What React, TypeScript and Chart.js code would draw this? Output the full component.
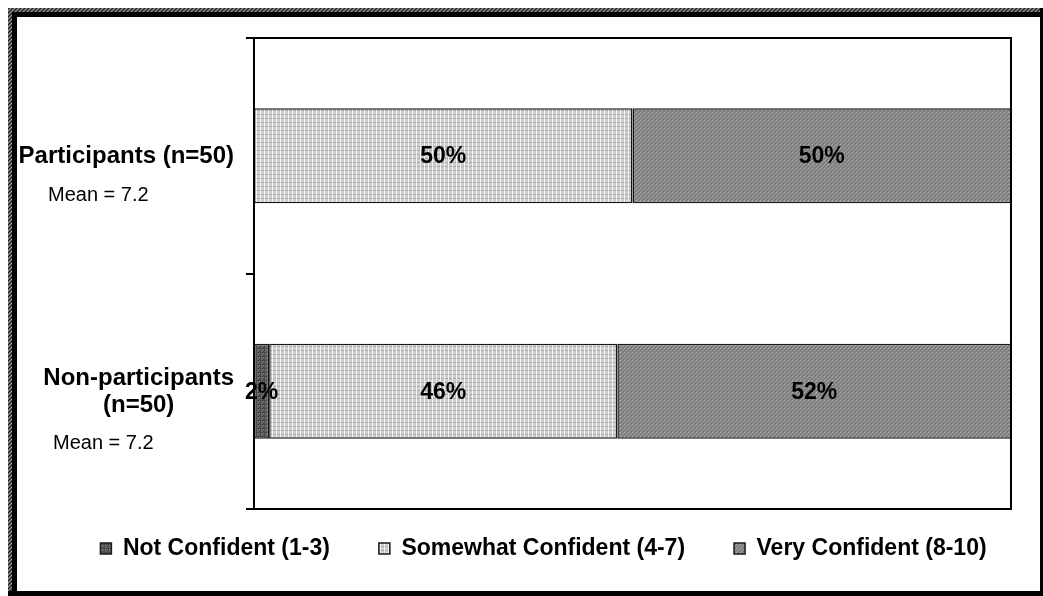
import { useEffect, useRef } from "react";
import { Chart, registerables } from "chart.js";

Chart.register(...registerables);

// ---- data ----
const categoryLines: string[][] = [["Participants (n=50)"], ["Non-participants", "(n=50)"]];
const meanLabels: string[] = ["Mean = 7.2", "Mean = 7.2"];
const seriesNames: string[] = ["Not Confident (1-3)", "Somewhat Confident (4-7)", "Very Confident (8-10)"];
const notConfident: number[] = [0, 2];
const somewhatConfident: number[] = [50, 46];
const veryConfident: number[] = [50, 52];

const FONT = '"Liberation Sans", Arial, Helvetica, sans-serif';
const W = 1043;
const H = 596;

function makePattern(base: string, px: Array<[number, number, string]>, size = 4): CanvasPattern | string {
  const c = document.createElement("canvas");
  c.width = size;
  c.height = size;
  const g = c.getContext("2d");
  if (!g) return base;
  g.fillStyle = base;
  g.fillRect(0, 0, size, size);
  px.forEach(([x, y, col]) => {
    g.fillStyle = col;
    g.fillRect(x, y, 1, 1);
  });
  const p = g.createPattern(c, "repeat");
  return p || base;
}

export default function App() {
  const ref = useRef<HTMLCanvasElement | null>(null);

  useEffect(() => {
    const canvas = ref.current;
    if (!canvas) return;

    const notPat = makePattern("#575757", [
      [0, 0, "#3a3a3a"], [2, 0, "#3a3a3a"], [1, 1, "#7a7a7a"], [3, 1, "#6a6a6a"],
      [0, 2, "#3a3a3a"], [2, 2, "#888888"], [1, 3, "#6a6a6a"], [3, 3, "#484848"],
    ]);
    const somePat = makePattern("#cbcbcb", [
      [0, 0, "#f4f4f4"], [0, 1, "#f4f4f4"], [0, 2, "#f4f4f4"], [0, 3, "#f4f4f4"],
      [1, 2, "#a4a4a4"], [2, 2, "#b8b8b8"], [3, 2, "#a4a4a4"], [2, 0, "#dadada"],
    ]);
    const veryPat = makePattern("#898989", [
      [0, 0, "#b0b0b0"], [2, 0, "#767676"], [1, 1, "#767676"], [3, 1, "#969696"],
      [0, 2, "#767676"], [2, 2, "#9c9c9c"], [1, 3, "#969696"], [3, 3, "#727272"],
    ]);
    const framePat = makePattern("#555555", [
      [0, 0, "#222222"], [2, 0, "#999999"], [1, 1, "#999999"], [3, 1, "#222222"],
      [0, 2, "#999999"], [2, 2, "#222222"], [1, 3, "#222222"], [3, 3, "#999999"],
    ]);

    const framePlugin = {
      id: "frame",
      beforeDraw(chart: any) {
        const ctx = chart.ctx;
        ctx.save();
        ctx.fillStyle = "#ffffff";
        ctx.fillRect(0, 0, W, H);
        ctx.fillStyle = framePat;
        ctx.fillRect(8, 8, 4, H - 8);
        ctx.fillRect(8, 8, W - 8, 4);
        ctx.fillStyle = "#000000";
        ctx.fillRect(12, 12, 5, H - 12);
        ctx.fillRect(12, 12, W - 12, 5);
        ctx.fillRect(W - 3, 8, 3, H - 8);
        ctx.fillRect(8, H - 5, W - 8, 5);
        ctx.restore();
      },
    };

    // nudge the built-in legend to its place in the reference
    const legendShift = {
      id: "legendShift",
      afterLayout(chart: any) {
        const lg = chart.legend;
        if (lg) {
          lg.top -= 21;
          lg.bottom -= 21;
          lg.left += 38;
          lg.right += 38;
        }
      },
    };

    const overlayPlugin = {
      id: "overlay",
      afterDatasetsDraw(chart: any) {
        const ctx = chart.ctx;
        const a = chart.chartArea;
        ctx.save();
        ctx.strokeStyle = "#000000";
        ctx.lineWidth = 2;
        ctx.strokeRect(a.left, a.top, a.right - a.left, a.bottom - a.top);

        ctx.fillStyle = "#000000";
        ctx.font = `bold 23px ${FONT}`;
        ctx.textAlign = "center";
        ctx.textBaseline = "middle";
        chart.data.datasets.forEach((ds: any, di: number) => {
          const meta = chart.getDatasetMeta(di);
          meta.data.forEach((el: any, i: number) => {
            const v = ds.data[i];
            if (!v) return;
            const p = el.getProps(["x", "y", "base"], true);
            ctx.fillText(`${v}%`, (p.x + p.base) / 2, p.y + 1);
          });
        });

        const ys = chart.scales.y;
        const blockRight = a.left - 20;
        const lineH = 27;
        const meanX = [48, 53];
        const meanDy = [40, 52];
        categoryLines.forEach((lines, i) => {
          const cy = ys.getPixelForValue(i);
          ctx.font = `bold 24px ${FONT}`;
          const maxW = Math.max(...lines.map((l) => ctx.measureText(l).width));
          const cx = blockRight - maxW / 2;
          const startY = cy + 1 - ((lines.length - 1) * lineH) / 2;
          ctx.textAlign = "center";
          lines.forEach((l, k) => ctx.fillText(l, cx, startY + k * lineH));
          ctx.font = `20px ${FONT}`;
          ctx.textAlign = "left";
          ctx.fillText(meanLabels[i], meanX[i], cy + meanDy[i]);
        });
        ctx.restore();
      },
    };

    const common = {
      borderColor: "#1a1a1a",
      borderWidth: 1.5,
      borderSkipped: false,
      barPercentage: 0.403,
      categoryPercentage: 1,
    };

    const chart = new Chart(canvas, {
      type: "bar",
      data: {
        labels: categoryLines,
        datasets: [
          { label: seriesNames[0], data: notConfident, backgroundColor: notPat, ...common },
          { label: seriesNames[1], data: somewhatConfident, backgroundColor: somePat, ...common },
          { label: seriesNames[2], data: veryConfident, backgroundColor: veryPat, ...common },
        ],
      } as any,
      options: {
        indexAxis: "y",
        animation: false,
        responsive: false,
        devicePixelRatio: 1,
        layout: { padding: { left: 0, right: 32, top: 38, bottom: 5 } },
        scales: {
          x: { stacked: true, min: 0, max: 100, display: false },
          y: {
            stacked: true,
            offset: true,
            grid: {
              offset: true,
              drawOnChartArea: false,
              drawTicks: true,
              tickLength: 8,
              color: "#000000",
              lineWidth: 2,
            },
            border: { display: true, color: "#000000", width: 2 },
            ticks: { display: false },
            afterFit(scale: any) {
              scale.width = 254;
            },
          },
        },
        plugins: {
          tooltip: { enabled: false },
          legend: {
            position: "bottom",
            labels: {
              boxWidth: 11,
              boxHeight: 11,
              padding: 49,
              color: "#000000",
              font: { family: FONT, size: 23, weight: "bold" },
            },
          },
        },
      } as any,
      plugins: [framePlugin, legendShift, overlayPlugin],
    });

    return () => chart.destroy();
  }, []);

  return (
    <div style={{ position: "absolute", left: 0, top: 0, width: W, height: H, overflow: "hidden" }}>
      <canvas ref={ref} width={W} height={H} style={{ display: "block", width: W, height: H }} />
    </div>
  );
}
